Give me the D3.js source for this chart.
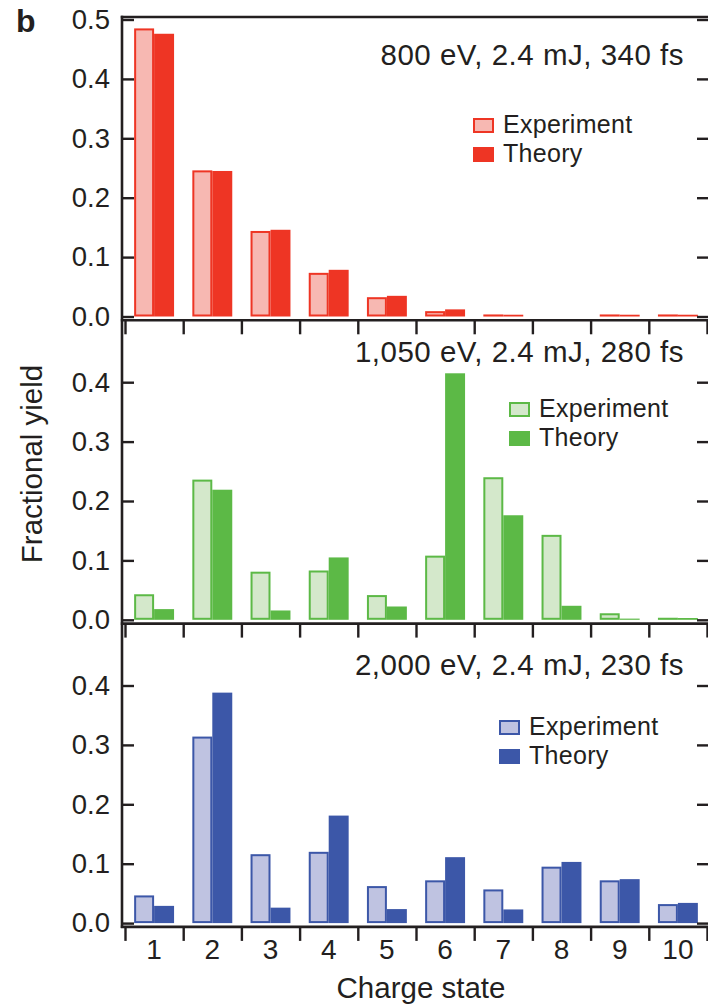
<!DOCTYPE html>
<html>
<head>
<meta charset="utf-8">
<script src="https://cdn.jsdelivr.net/npm/d3@7"></script>
<style>
  body { margin: 0; background: #fff; }
  svg { display: block; font-family: "Liberation Sans", Arial, sans-serif; }
  .axis text { fill: #231f20; }
</style>
</head>
<body>
<svg width="708" height="1007"></svg>
<script>
const svg = d3.select("svg");

// Data
const chargeStates = [1, 2, 3, 4, 5, 6, 7, 8, 9, 10];
const panelTitles = ["800 eV, 2.4 mJ, 340 fs", "1,050 eV, 2.4 mJ, 280 fs", "2,000 eV, 2.4 mJ, 230 fs"];
const seriesNames = ["Experiment", "Theory"];

const exp800 = [0.485, 0.246, 0.144, 0.0735, 0.0325, 0.009, 0.001, 0, 0.003, 0.003];
const theory800 = [0.476, 0.245, 0.146, 0.0786, 0.0348, 0.012, 0.003, 0, 0.003, 0.003];

const exp1050 = [0.043, 0.236, 0.081, 0.083, 0.0416, 0.108, 0.240, 0.143, 0.011, 0.003];
const theory1050 = [0.018, 0.219, 0.0157, 0.105, 0.0224, 0.415, 0.176, 0.0236, 0.002, 0.003];

const exp2000 = [0.0466, 0.314, 0.116, 0.120, 0.0623, 0.072, 0.0567, 0.095, 0.072, 0.032];
const theory2000 = [0.029, 0.388, 0.026, 0.181, 0.0236, 0.111, 0.023, 0.103, 0.074, 0.034];

const yTicksTop = [0, 0.1, 0.2, 0.3, 0.4, 0.5];
const yTicksLower = [0, 0.1, 0.2, 0.3, 0.4];

// Colours per panel
const colours = [
  { dark: "#ee3524", light: "#f7b8b2" },
  { dark: "#5cb946", light: "#d4e8cb" },
  { dark: "#3c57a8", light: "#bfc3e1" }
];

const panels = [
  { title: panelTitles[0], exp: exp800, theory: theory800, ticks: yTicksTop },
  { title: panelTitles[1], exp: exp1050, theory: theory1050, ticks: yTicksLower },
  { title: panelTitles[2], exp: exp2000, theory: theory2000, ticks: yTicksLower }
];

// Layout
const leftX = 122;
const rightX = 710;
const firstTop = 17;
const panelPitch = 303.3;
const zeroOffset = 299.5;   // from panel top to the zero line
const axisOffset = 303.3;   // from panel top to the bottom axis line
const ink = "#231f20";
const titleY = [65, 362, 675];
const legendPos = [[473, 118], [509, 402], [499, 720]];

const x = d3.scaleBand()
  .domain(chargeStates)
  .range([125, 707])
  .paddingInner(0.314)
  .paddingOuter(0.157);

const xInner = d3.scaleBand()
  .domain(seriesNames)
  .range([0, x.bandwidth()]);

const xEdge = d3.scaleLinear().domain([0.5, 10.5]).range([125, 707]);
const edgeTicks = d3.range(0.5, 11, 1);

panels.forEach((p, i) => {
  const top = firstTop + i * panelPitch;
  const y = d3.scaleLinear().domain([0, 0.1]).range([top + zeroOffset, top + zeroOffset - 59.4]);
  const g = svg.append("g");
  const c = colours[i];

  // bars
  const rows = chargeStates.map((cs, k) => ({ cs, exp: p.exp[k], theory: p.theory[k] }));

  // experiment bars: light fill, dark outline drawn inside the bar
  g.selectAll(".exp").data(rows.filter(d => d.exp > 0)).join("rect")
    .attr("class", "exp")
    .attr("x", d => x(d.cs) + xInner("Experiment") + 1)
    .attr("width", xInner.bandwidth() - 2)
    .attr("y", d => Math.min(y(d.exp) + 1, y(0) - 1.05))
    .attr("height", d => Math.max(0.1, y(0) - y(d.exp) - 2))
    .attr("fill", c.light)
    .attr("stroke", c.dark)
    .attr("stroke-width", 2);

  g.selectAll(".theory").data(rows).join("rect")
    .attr("class", "theory")
    .attr("x", d => x(d.cs) + xInner("Theory"))
    .attr("width", xInner.bandwidth())
    .attr("y", d => y(d.theory))
    .attr("height", d => y(0) - y(d.theory))
    .attr("fill", c.dark);

  // left y axis, ticks inward
  g.append("g")
    .attr("class", "axis")
    .attr("transform", `translate(${leftX},0)`)
    .call(d3.axisLeft(y).tickValues(p.ticks).tickFormat(d3.format(".1f")).tickSize(-12).tickPadding(12))
    .call(a => a.select(".domain").remove())
    .call(a => a.selectAll("line").attr("stroke", ink).attr("stroke-width", 2.4))
    .call(a => a.selectAll("text").attr("font-size", 27.5).attr("font-family", null));

  // right y axis, ticks inward, no labels
  g.append("g")
    .attr("transform", `translate(${rightX},0)`)
    .call(d3.axisRight(y).tickValues(p.ticks).tickFormat("").tickSize(-13))
    .call(a => a.select(".domain").remove())
    .call(a => a.selectAll("line").attr("stroke", ink).attr("stroke-width", 2.4));

  // bottom axis line with ticks between charge states
  const axisY = top + axisOffset;
  g.append("g")
    .attr("transform", `translate(0,${axisY})`)
    .call(d3.axisBottom(xEdge).tickValues(edgeTicks).tickFormat("").tickSize(14))
    .call(a => a.select(".domain").remove())
    .call(a => a.selectAll("line").attr("stroke", ink).attr("stroke-width", 2.4));
  g.append("line")
    .attr("x1", leftX - 1.2).attr("x2", rightX)
    .attr("y1", axisY).attr("y2", axisY)
    .attr("stroke", ink).attr("stroke-width", 2.6);

  // panel title
  g.append("text")
    .attr("x", 684).attr("y", titleY[i])
    .attr("text-anchor", "end")
    .attr("font-size", 29.5)
    .attr("letter-spacing", 0.5)
    .attr("fill", ink)
    .text(p.title);

  // legend
  const [lx, ly] = legendPos[i];
  const leg = g.append("g").attr("transform", `translate(${lx},${ly})`);
  seriesNames.forEach((name, k) => {
    const isExp = name === "Experiment";
    leg.append("rect")
      .attr("x", isExp ? 1 : 0).attr("y", k * 29 + (isExp ? 1 : 0))
      .attr("width", isExp ? 19 : 21).attr("height", isExp ? 13 : 15)
      .attr("fill", isExp ? c.light : c.dark)
      .attr("stroke", isExp ? c.dark : "none")
      .attr("stroke-width", 2);
    leg.append("text")
      .attr("x", 30).attr("y", k * 29 + 15)
      .attr("font-size", 25)
      .attr("letter-spacing", 0.3)
      .attr("fill", ink)
      .text(name);
  });

  // x tick labels on the lowest panel only
  if (i === panels.length - 1) {
    g.append("g")
      .attr("class", "axis")
      .attr("transform", `translate(0,${axisY})`)
      .call(d3.axisBottom(x).tickSize(0).tickPadding(12))
      .call(a => a.select(".domain").remove())
      .call(a => a.selectAll("text").attr("font-size", 28).attr("font-family", null));
  }
});

// frame: top and left lines
const bottomY = firstTop + 2 * panelPitch + axisOffset;
svg.append("line")
  .attr("x1", leftX - 1.2).attr("x2", rightX)
  .attr("y1", firstTop).attr("y2", firstTop)
  .attr("stroke", ink).attr("stroke-width", 2.6);
svg.append("line")
  .attr("x1", leftX).attr("x2", leftX)
  .attr("y1", firstTop - 1.2).attr("y2", bottomY + 1.2)
  .attr("stroke", ink).attr("stroke-width", 2.6);

// axis titles and panel letter
svg.append("text")
  .attr("transform", "translate(42,464) rotate(-90)")
  .attr("text-anchor", "middle")
  .attr("font-size", 29.5)
  .attr("fill", ink)
  .text("Fractional yield");

svg.append("text")
  .attr("x", 421).attr("y", 998)
  .attr("text-anchor", "middle")
  .attr("font-size", 29.5)
  .attr("fill", ink)
  .text("Charge state");

svg.append("text")
  .attr("x", 16).attr("y", 32)
  .attr("font-size", 32)
  .attr("font-weight", 900)
  .attr("fill", ink)
  .text("b");
</script>
</body>
</html>
